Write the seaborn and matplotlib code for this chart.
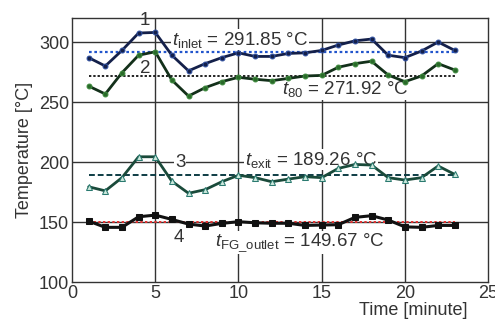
import numpy as np
import pandas as pd
import matplotlib
matplotlib.use("Agg")
import matplotlib.pyplot as plt
import seaborn as sns

# data
time_min = list(range(1, 24))
t_inlet = [287, 280, 293, 307.5, 308, 289, 276, 282, 287, 291, 288, 288,
           290.5, 291, 293, 297.5, 301, 302.5, 289, 287, 292.5, 300, 293]
t_80 = [263.3, 256.7, 274.4, 289, 291.9, 268.3, 255, 262, 267, 270.6, 269, 267.8,
        269.7, 271.7, 272.2, 279, 282, 284, 272.5, 267, 271.7, 282, 276.7]
t_exit = [179.4, 176, 187, 204.4, 204.4, 184, 174, 177, 183.6, 189, 187, 183.6,
          185.8, 187.8, 187, 194.7, 198, 197.5, 187, 185, 187, 196.7, 189.7]
t_fg = [150.8, 145.6, 145.6, 154.4, 155.8, 152.2, 148.3, 146.7, 148.9, 150.3, 149.4, 149,
        149, 147.2, 147.5, 147.8, 153.9, 155.3, 151.7, 146, 145.6, 147.2, 147.2]
means = {"inlet": 291.85, "80": 271.92, "exit": 189.26, "FG": 149.67}

df = pd.DataFrame({"time": time_min, "inlet": t_inlet, "t80": t_80,
                   "exit": t_exit, "fg": t_fg})

sns.set_style("white")
plt.rcParams["font.family"] = ["Liberation Sans", "DejaVu Sans"]
plt.rcParams["mathtext.fontset"] = "custom"
plt.rcParams["mathtext.it"] = "Liberation Sans:italic"
plt.rcParams["mathtext.rm"] = "Liberation Sans"

fig = plt.figure(figsize=(4.95, 3.22), dpi=100)
ax = fig.add_axes([0.1455, 0.124, 0.8405, 0.82])

grid_c = "#333333"
for xv in [5, 10, 15, 20]:
    ax.axvline(xv, color=grid_c, lw=1.0, zorder=0)
for yv in [150, 200, 250, 300]:
    ax.axhline(yv, color=grid_c, lw=1.0, zorder=0)

# mean lines
t0, t1 = time_min[0], time_min[-1]
ax.plot([t0, t1], [means["inlet"]] * 2, color="#2255cc", lw=1.6, ls=(0, (1.2, 1.2)), zorder=2)
ax.plot([t0, t1], [means["80"]] * 2, color="#222222", lw=1.4, ls=(0, (1.2, 1.0)), zorder=2)
ax.plot([t0, t1], [means["exit"]] * 2, color="#0d3c44", lw=1.4, ls=(0, (3, 1.5)), zorder=2)
ax.plot([t0, t1], [means["FG"]] * 2, color="#e03030", lw=1.4, ls=(0, (1.2, 1.2)), zorder=2)

sns.lineplot(data=df, x="time", y="inlet", ax=ax, color="#14204a", lw=2.0,
             marker="o", markersize=3.5, markerfacecolor="#14204a",
             markeredgecolor="#3050a0", zorder=3)
sns.lineplot(data=df, x="time", y="t80", ax=ax, color="#13301a", lw=2.0,
             marker="o", markersize=3.5, markerfacecolor="#2a6a2a",
             markeredgecolor="#3d8a3d", zorder=3)
sns.lineplot(data=df, x="time", y="exit", ax=ax, color="#1a4a3a", lw=2.0,
             marker="^", markersize=5, markerfacecolor="#cde8dc",
             markeredgecolor="#2a7a70", zorder=3)
sns.lineplot(data=df, x="time", y="fg", ax=ax, color="#111111", lw=2.2,
             marker="s", markersize=4, markerfacecolor="#111111",
             markeredgecolor="#111111", zorder=3)

box = dict(facecolor="white", edgecolor="none", pad=0.5)
fs = 13.5
txt_c = "#333333"
ax.text(4.4, 318, "1", fontsize=fs, ha="center", va="center", color=txt_c)
ax.text(4.4, 278, "2", fontsize=fs, ha="center", va="center", color=txt_c)
ax.text(6.5, 200, "3", fontsize=fs, ha="center", va="center", color=txt_c, bbox=box)
ax.text(6.4, 137, "4", fontsize=fs, ha="center", va="center", color=txt_c)
ax.text(6.0, 302, r"$\mathit{t}_{\mathrm{inlet}}$ = 291.85 °C", fontsize=fs,
        ha="left", va="center", color=txt_c, bbox=box, zorder=1)
ax.text(12.6, 261, r"$\mathit{t}_{\mathrm{80}}$ = 271.92 °C", fontsize=fs,
        ha="left", va="center", color=txt_c, bbox=box, zorder=1)
ax.text(10.4, 202, r"$\mathit{t}_{\mathrm{exit}}$ = 189.26 °C", fontsize=fs,
        ha="left", va="center", color=txt_c, bbox=box, zorder=1)
ax.text(8.6, 133, r"$\mathit{t}_{\mathrm{FG\_outlet}}$ = 149.67 °C", fontsize=fs,
        ha="left", va="center", color=txt_c, bbox=box, zorder=1)

ax.set_xlim(0, 25)
ax.set_ylim(100, 320)
ax.set_xticks([0, 5, 10, 15, 20, 25])
ax.set_yticks([100, 150, 200, 250, 300])
ax.tick_params(length=0, labelsize=13, colors=txt_c, pad=2)
for s in ax.spines.values():
    s.set_color(grid_c)
    s.set_linewidth(1.0)

ax.set_xlabel("")
ax.set_ylabel("Temperature [°C]", fontsize=13, color=txt_c, labelpad=4)
fig.text(0.945, 0.01, "Time [minute]", fontsize=13, color=txt_c, ha="right", va="bottom")

fig.savefig("out.png", dpi=100)
